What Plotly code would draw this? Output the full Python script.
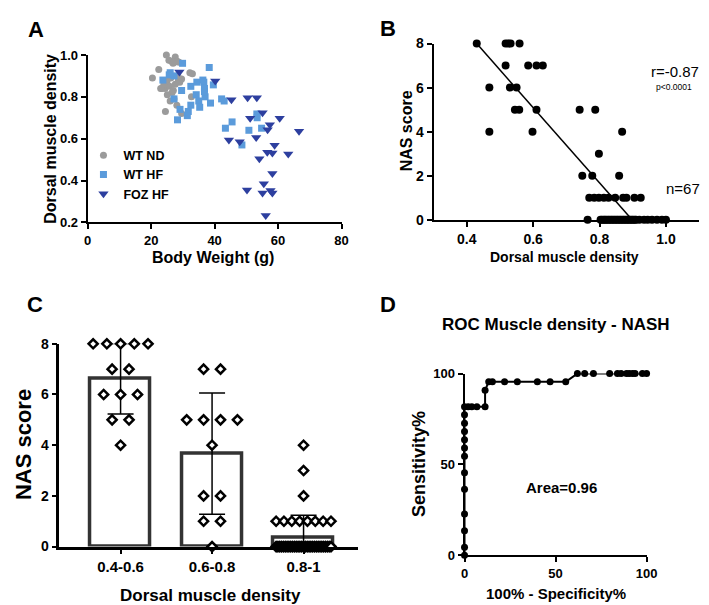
import plotly.graph_objects as go

# ---------------- Panel A data ----------------
wtnd_bw = [24.8, 27.6, 25.6, 26.4, 27.3, 28.2, 26.9, 28.8, 22.4, 20.4, 32.2, 33.0, 25.0, 26.2,
           28.6, 29.6, 29.0, 23.4, 24.4, 25.8, 27.6, 27.0, 26.6, 25.1, 32.7, 26.0, 27.2, 28.1,
           24.5, 29.6, 24.0, 28.4, 23.0]
wtnd_den = [1.0, 0.99, 0.975, 0.97, 0.965, 0.97, 0.96, 0.965, 0.93, 0.89, 0.915, 0.91, 0.875, 0.89,
            0.88, 0.885, 0.87, 0.84, 0.84, 0.85, 0.86, 0.83, 0.82, 0.81, 0.80, 0.78, 0.79, 0.76,
            0.73, 0.72, 0.86, 0.90, 0.84]
wthf_bw = [23.7, 25.7, 27.2, 29.9, 38.3, 29.6, 32.5, 34.4, 36.3, 36.6, 39.6, 36.8, 34.2, 37.0,
           35.0, 32.5, 35.3, 38.7, 42.2, 43.0, 29.1, 31.7, 31.4, 28.3, 27.2, 45.5, 43.4, 50.8,
           53.3, 53.4, 54.8, 48.6, 26.0, 36.8]
wthf_den = [0.88, 0.905, 0.90, 0.96, 0.94, 0.83, 0.85, 0.87, 0.88, 0.87, 0.857, 0.84, 0.81, 0.80,
            0.78, 0.76, 0.75, 0.77, 0.79, 0.78, 0.74, 0.73, 0.71, 0.69, 0.79, 0.68, 0.65, 0.64,
            0.718, 0.70, 0.65, 0.57, 0.915, 0.825]
foz_bw = [28.9, 40.2, 45.3, 50.4, 53.3, 55.1, 51.2, 60.5, 57.4, 56.7, 66.6, 44.5, 47.9, 53.1,
          58.9, 54.1, 56.6, 58.2, 63.2, 58.2, 55.5, 50.2, 55.1, 57.6, 58.2, 56.1]
foz_den = [0.918, 0.876, 0.786, 0.795, 0.795, 0.724, 0.698, 0.698, 0.667, 0.643, 0.636, 0.594,
           0.585, 0.605, 0.569, 0.504, 0.535, 0.532, 0.527, 0.434, 0.385, 0.355, 0.341, 0.352,
           0.341, 0.233]

# ---------------- Panel B data ----------------
b_density = ([0.43, 0.517, 0.525, 0.532, 0.559] +
             [0.517, 0.585, 0.61, 0.629] +
             [0.468, 0.53, 0.55] +
             [0.545, 0.558, 0.61, 0.74, 0.787] +
             [0.468, 0.598, 0.868] +
             [0.798] +
             [0.748, 0.778, 0.859] +
             [0.769, 0.784, 0.798, 0.813, 0.827, 0.847, 0.871, 0.881, 0.905, 0.924] +
             [0.764, 0.803, 0.807, 0.812, 0.816, 0.82, 0.825, 0.829, 0.834, 0.838, 0.843, 0.847,
              0.852, 0.856, 0.861, 0.865, 0.87, 0.874, 0.879, 0.883, 0.888, 0.892, 0.897, 0.901,
              0.906, 0.91, 0.92, 0.934, 0.945, 0.958, 0.973, 0.988, 1.0])
b_nas = ([8] * 5 + [7] * 4 + [6] * 3 + [5] * 5 + [4] * 3 + [3] * 1 + [2] * 3 + [1] * 10 + [0] * 33)
fit_x = [0.43, 0.898]
fit_y = [8.0, 0.0]

# ---------------- Panel C data ----------------
c_groups = ["0.4-0.6", "0.6-0.8", "0.8-1"]
c_means = [6.62, 3.67, 0.35]
c_sd = [1.39, 2.39, 0.89]
c_nas_g1 = [8, 8, 8, 8, 8, 7, 7, 6, 6, 6, 5, 5, 4]
c_nas_g2 = [7, 7, 5, 5, 5, 5, 4, 2, 2, 1, 1, 0]
c_nas_g3 = [4, 3, 2] + [1] * 8 + [0] * 31

# ---------------- Panel D data ----------------
roc_x = [0, 0, 0, 0, 0, 0, 0, 0, 0, 0, 0, 0, 0, 2, 4, 6.8, 11.3, 11.3, 13.3, 15.3, 22, 29, 40, 47,
         55.6, 62, 66, 70.8, 79.7, 84, 86, 89, 90.5, 92.3, 93.7, 97.7, 100]
roc_y = [0, 4.5, 13.6, 22.7, 36.4, 45.5, 54.5, 59.1, 63.6, 68.2, 72.7, 77.3, 81.8, 81.8, 81.8,
         81.8, 81.8, 90.9, 95.5, 95.5, 95.5, 95.5, 95.5, 95.5, 95.5, 100, 100, 100, 100, 100,
         100, 100, 100, 100, 100, 100, 100]

W, H = 709, 605
FONT = "Liberation Sans, Arial, sans-serif"


def px(x):
    return x / W


def py(y):
    return 1 - y / H


fig = go.Figure()

# Panel A
fig.add_trace(go.Scatter(x=wtnd_bw, y=wtnd_den, mode="markers", name="WT ND",
                         marker=dict(symbol="circle", size=7, color="#9b9b9b"),
                         xaxis="x", yaxis="y", cliponaxis=False))
fig.add_trace(go.Scatter(x=wthf_bw, y=wthf_den, mode="markers", name="WT HF",
                         marker=dict(symbol="square", size=7, color="#5b9bdb"),
                         xaxis="x", yaxis="y", cliponaxis=False))
fig.add_trace(go.Scatter(x=foz_bw, y=foz_den, mode="markers", name="FOZ HF",
                         marker=dict(symbol="triangle-down", size=9, color="#2d3f9f"),
                         xaxis="x", yaxis="y", cliponaxis=False))

# Panel B
fig.add_trace(go.Scatter(x=fit_x, y=fit_y, mode="lines", line=dict(color="black", width=1.5),
                         xaxis="x2", yaxis="y2", showlegend=False))
fig.add_trace(go.Scatter(x=b_density, y=b_nas, mode="markers",
                         marker=dict(symbol="circle", size=8, color="black"),
                         xaxis="x2", yaxis="y2", showlegend=False, cliponaxis=False))

# Panel C
err_minus = [min(s, m) for s, m in zip(c_sd, c_means)]
fig.add_trace(go.Bar(x=[0, 1, 2], y=c_means, width=0.66,
                     marker=dict(color="white", line=dict(color="#333333", width=3.5)),
                     error_y=dict(type="data", array=c_sd, arrayminus=err_minus, symmetric=False,
                                  color="black", thickness=1.5, width=13),
                     xaxis="x3", yaxis="y3", showlegend=False))


def spread(values, center, max_w=0.6, step=0.185):
    xs, ys = [], []
    counts = {}
    for v in values:
        counts[v] = counts.get(v, 0) + 1
    for v, n in counts.items():
        s = step if n < 2 else min(step, max_w / (n - 1))
        for i in range(n):
            xs.append(center + (i - (n - 1) / 2) * s)
            ys.append(v)
    return xs, ys


cx, cy = [], []
for gi, vals in enumerate([c_nas_g1, c_nas_g2, c_nas_g3]):
    xs, ys = spread(vals, gi)
    cx += xs
    cy += ys
fig.add_trace(go.Scatter(x=cx, y=cy, mode="markers",
                         marker=dict(symbol="diamond", size=7, color="white",
                                     line=dict(color="black", width=2.5)),
                         xaxis="x3", yaxis="y3", showlegend=False, cliponaxis=False))

# Panel D
fig.add_trace(go.Scatter(x=roc_x, y=roc_y, mode="lines+markers",
                         line=dict(color="black", width=2),
                         marker=dict(symbol="circle", size=7, color="black"),
                         xaxis="x4", yaxis="y4", showlegend=False, cliponaxis=False))

axis_common = dict(showline=True, linecolor="black", linewidth=2, ticks="outside", ticklen=5,
                   tickwidth=2, tickcolor="black", showgrid=False, zeroline=False,
                   tickfont=dict(family=FONT, size=13, color="black", weight="bold"))

fig.update_layout(
    width=W, height=H, margin=dict(l=0, r=0, t=0, b=0),
    paper_bgcolor="white", plot_bgcolor="white",
    font=dict(family=FONT, color="black"),
    xaxis=dict(axis_common, domain=[px(77.3), px(336.7)], range=[0, 80], dtick=20,
               anchor="y"),
    yaxis=dict(axis_common, domain=[py(212), py(40)], range=[0.2, 1.0],
               tickvals=[0.2, 0.4, 0.6, 0.8, 1.0], tickformat=".1f", anchor="x"),
    xaxis2=dict(axis_common, domain=[px(430.7), px(702)], range=[0.3, 1.1],
                tickvals=[0.4, 0.6, 0.8, 1.0], tickformat=".1f", anchor="y2"),
    yaxis2=dict(axis_common, domain=[py(209.3), py(28.3)], range=[0, 8], dtick=2, anchor="x2"),
    xaxis3=dict(axis_common, domain=[px(48.3), px(353)], range=[-0.67, 2.59],
                tickvals=[0, 1, 2], ticktext=c_groups, anchor="y3", linewidth=2.5),
    yaxis3=dict(axis_common, domain=[py(545), py(336.7)], range=[0, 8], dtick=2, anchor="x3",
                linewidth=2.5),
    xaxis4=dict(axis_common, domain=[px(462.3), px(648.3)], range=[0, 100],
                tickvals=[0, 50, 100], anchor="y4"),
    yaxis4=dict(axis_common, domain=[py(554), py(367.3)], range=[0, 100],
                tickvals=[0, 50, 100], anchor="x4"),
    showlegend=True,
    legend=dict(x=px(73), y=py(128), xanchor="left", yanchor="top",
                font=dict(family=FONT, size=12.5, color="black", weight="bold"),
                bgcolor="rgba(0,0,0,0)", itemsizing="trace"),
    bargap=0,
)
fig.layout.xaxis3.tickfont.size = 15
fig.layout.yaxis3.tickfont.size = 14
fig.layout.xaxis2.tickfont.size = 14
fig.layout.yaxis2.tickfont.size = 14


def ann(text, x, y, size, bold=True, angle=0, xanchor="center"):
    fig.add_annotation(text=text, x=px(x), y=py(y), xref="paper", yref="paper",
                       showarrow=False, textangle=angle, xanchor=xanchor, yanchor="middle",
                       font=dict(family=FONT, size=size, color="black",
                                 weight="bold" if bold else "normal"))


# panel letters
ann("A", 25, 14, 22)
ann("B", 384.5, 12.5, 22)
ann("C", 24, 296, 22)
ann("D", 384, 296, 22)

# Panel A titles
ann("Dorsal muscle density", 40, 126, 16, angle=-90)
ann("Body Weight (g)", 205, 248, 16)
# Panel B titles
ann("NAS score", 403, 118, 16, angle=-90)
ann("Dorsal muscle density", 564, 248, 14)
ann("r=-0.87", 704, 57, 15, bold=False, xanchor="right")
ann("p<0.0001", 697, 73, 8.5, bold=False, xanchor="right")
ann("n=67", 705, 177, 15, bold=False, xanchor="right")
# Panel C titles
ann("NAS score", 12, 440, 22, angle=-90)
ann("Dorsal muscle density", 203, 595, 17)
# Panel D titles
ann("ROC Muscle density - NASH", 556, 317, 17)
ann("Sensitivity%", 416, 460, 18, angle=-90)
ann("100% - Specificity%", 556, 593, 15)
ann("Area=0.96", 561, 484, 15)

fig.write_html("out.html")
